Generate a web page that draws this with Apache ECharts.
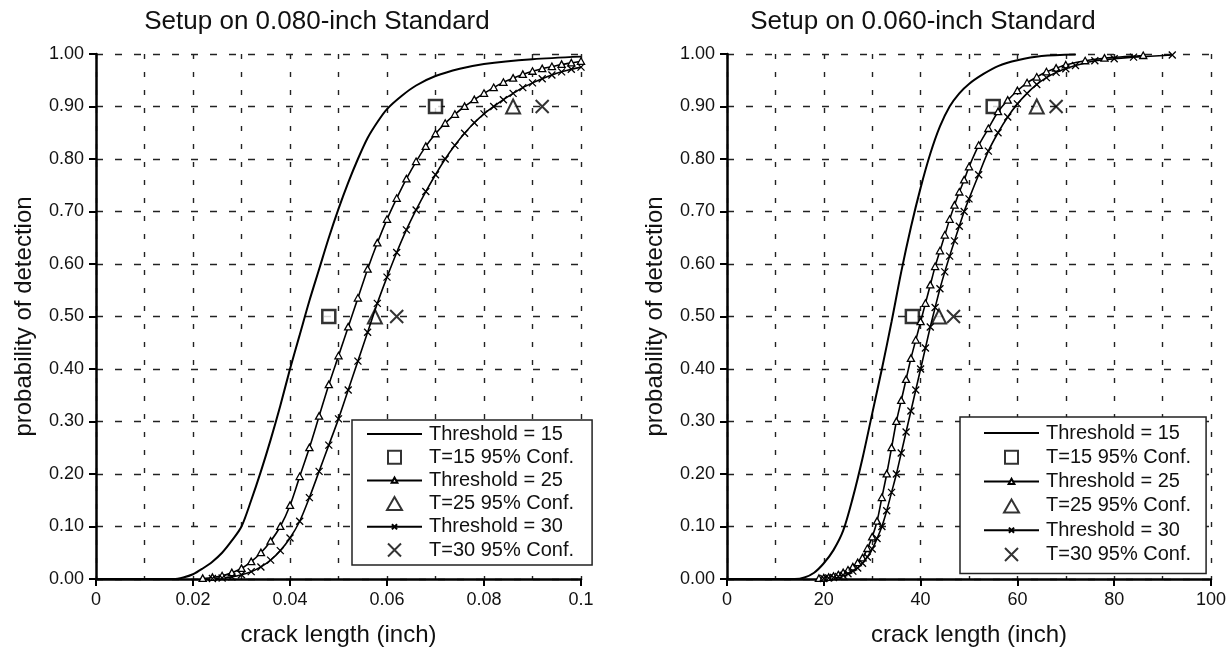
<!DOCTYPE html>
<html><head><meta charset="utf-8">
<script src="https://cdn.jsdelivr.net/npm/echarts@6/dist/echarts.min.js"></script>
<style>html,body{margin:0;padding:0;background:#fff}#c{width:1229px;height:653px}</style>
</head><body><div id="c"></div>
<script>
// ---------- data ----------
const titles = ['Setup on 0.080-inch Standard', 'Setup on 0.060-inch Standard'];
const yName = 'probability of detection';
const xName = 'crack length (inch)';
const legendNames = ['Threshold = 15', 'T=15 95% Conf.', 'Threshold = 25', 'T=25 95% Conf.', 'Threshold = 30', 'T=30 95% Conf.'];

// Left chart (0.080-inch)
const L_t15_x = [0, 0.016, 0.018, 0.020, 0.022, 0.024, 0.026, 0.028, 0.030, 0.032, 0.034, 0.036, 0.038, 0.040, 0.042, 0.044, 0.046, 0.048, 0.050, 0.052, 0.054, 0.056, 0.058, 0.060, 0.063, 0.066, 0.070, 0.075, 0.080, 0.090, 0.100];
const L_t15_y = [0, 0, 0.003, 0.009, 0.02, 0.033, 0.05, 0.073, 0.10, 0.15, 0.205, 0.265, 0.33, 0.40, 0.465, 0.53, 0.59, 0.65, 0.705, 0.755, 0.80, 0.84, 0.87, 0.895, 0.92, 0.94, 0.958, 0.972, 0.981, 0.99, 0.995];
const L_t25_x = [0.022, 0.024, 0.026, 0.028, 0.030, 0.032, 0.034, 0.036, 0.038, 0.040, 0.042, 0.044, 0.046, 0.048, 0.050, 0.052, 0.054, 0.056, 0.058, 0.060, 0.062, 0.064, 0.066, 0.068, 0.070, 0.072, 0.074, 0.076, 0.078, 0.080, 0.082, 0.084, 0.086, 0.088, 0.090, 0.092, 0.094, 0.096, 0.098, 0.100];
const L_t25_y = [0.001, 0.003, 0.006, 0.012, 0.02, 0.033, 0.05, 0.072, 0.10, 0.14, 0.195, 0.25, 0.31, 0.37, 0.425, 0.48, 0.535, 0.59, 0.64, 0.685, 0.725, 0.762, 0.795, 0.824, 0.848, 0.868, 0.885, 0.90, 0.913, 0.925, 0.936, 0.946, 0.954, 0.961, 0.967, 0.972, 0.976, 0.980, 0.983, 0.986];
const L_t30_x = [0.024, 0.026, 0.028, 0.030, 0.032, 0.034, 0.036, 0.038, 0.040, 0.042, 0.044, 0.046, 0.048, 0.050, 0.052, 0.054, 0.056, 0.058, 0.060, 0.062, 0.064, 0.066, 0.068, 0.070, 0.072, 0.074, 0.076, 0.078, 0.080, 0.082, 0.084, 0.086, 0.088, 0.090, 0.092, 0.094, 0.096, 0.098, 0.100];
const L_t30_y = [0.001, 0.002, 0.004, 0.008, 0.014, 0.023, 0.036, 0.054, 0.078, 0.11, 0.155, 0.205, 0.255, 0.305, 0.36, 0.415, 0.47, 0.525, 0.575, 0.622, 0.665, 0.703, 0.738, 0.77, 0.80, 0.826, 0.849, 0.869, 0.886, 0.90, 0.913, 0.925, 0.936, 0.945, 0.953, 0.96, 0.966, 0.971, 0.975];
const L_c15 = [[0.048, 0.5], [0.070, 0.9]];
const L_c25 = [[0.0575, 0.5], [0.086, 0.9]];
const L_c30 = [[0.062, 0.5], [0.092, 0.9]];

// Right chart (0.060-inch)
const R_t15_x = [0, 14, 16, 18, 20, 22, 24, 26, 28, 30, 32, 34, 36, 38, 40, 42, 44, 46, 48, 50, 53, 56, 60, 65, 72];
const R_t15_y = [0, 0, 0.003, 0.012, 0.03, 0.055, 0.092, 0.155, 0.23, 0.315, 0.40, 0.49, 0.585, 0.67, 0.745, 0.81, 0.862, 0.90, 0.925, 0.943, 0.962, 0.977, 0.988, 0.996, 0.999];
const R_t25_x = [19, 20, 21, 22, 23, 24, 25, 26, 27, 28, 29, 30, 31, 32, 33, 34, 35, 36, 37, 38, 39, 40, 41, 42, 43, 44, 45, 46, 47, 48, 49, 50, 52, 54, 56, 58, 60, 62, 64, 66, 68, 70, 74, 78, 86];
const R_t25_y = [0.001, 0.002, 0.003, 0.005, 0.008, 0.012, 0.017, 0.023, 0.031, 0.04, 0.058, 0.08, 0.11, 0.155, 0.20, 0.25, 0.30, 0.34, 0.38, 0.42, 0.455, 0.49, 0.525, 0.56, 0.595, 0.625, 0.655, 0.685, 0.712, 0.737, 0.76, 0.785, 0.826, 0.858, 0.89, 0.912, 0.93, 0.945, 0.956, 0.966, 0.973, 0.979, 0.987, 0.992, 0.997];
const R_t30_x = [20, 21, 22, 23, 24, 25, 26, 27, 28, 29, 30, 31, 32, 33, 34, 35, 36, 37, 38, 39, 40, 41, 42, 43, 44, 45, 46, 47, 48, 49, 50, 52, 54, 56, 58, 60, 62, 64, 66, 68, 70, 72, 76, 80, 84, 92];
const R_t30_y = [0.001, 0.002, 0.003, 0.005, 0.007, 0.01, 0.015, 0.021, 0.03, 0.042, 0.057, 0.077, 0.10, 0.13, 0.165, 0.20, 0.24, 0.28, 0.32, 0.36, 0.40, 0.44, 0.48, 0.517, 0.553, 0.585, 0.615, 0.644, 0.672, 0.70, 0.724, 0.77, 0.815, 0.85, 0.88, 0.905, 0.925, 0.942, 0.955, 0.965, 0.972, 0.978, 0.987, 0.991, 0.994, 0.998];
const R_c15 = [[38.3, 0.5], [55, 0.9]];
const R_c25 = [[43.8, 0.5], [64, 0.9]];
const R_c30 = [[46.8, 0.5], [68, 0.9]];

// ---------- styling ----------
const SANS = "'Liberation Sans', Arial, sans-serif";
const NARROW = "'Liberation Sans Narrow', 'Liberation Sans', Arial, sans-serif";
const SYM_SQUARE = 'path://M0,0L10,0L10,10L0,10Z';
const SYM_TRI = 'path://M6,0L12,10.4L0,10.4Z';
const SYM_X = 'path://M0,0L10,10M10,0L0,10';
const SYM_TRI_SMALL = 'path://M0,0M20,20M10,4.5L15.5,14.5L4.5,14.5Z';
const SYM_X_SMALL = 'path://M0,0M20,20M5,5L15,15M15,5L5,15';
const SYM_NONE = 'path://M0,0M10,10';

const zip = (xs, ys) => xs.map((x, i) => [x, ys[i]]);

const grids = [
  {left: 96, top: 54, width: 485, height: 525},
  {left: 727, top: 54, width: 485, height: 525}
];
const gridDashH = {show: true, lineStyle: {color: '#222', width: 1.4, type: [7, 12]}};
const gridDashV = {show: true, lineStyle: {color: '#222', width: 1.4, type: [5, 13]}};

function xAxis(gi, max, interval) {
  return {
    type: 'value', gridIndex: gi, min: 0, max: max, interval: interval,
    name: xName, nameLocation: 'middle', nameGap: 44,
    nameTextStyle: {fontFamily: SANS, fontSize: 24, color: '#111'},
    axisLine: {show: true, onZero: false, lineStyle: {color: '#000', width: 2.5}},
    axisTick: {show: true, length: 7, lineStyle: {color: '#000', width: 2}},
    minorTick: {show: false, splitNumber: 2},
    axisLabel: {fontFamily: NARROW, fontSize: 18, color: '#111', margin: 12},
    splitLine: gridDashV,
    minorSplitLine: gridDashV
  };
}
function yAxis(gi) {
  return {
    type: 'value', gridIndex: gi, min: 0, max: 1, interval: 0.1,
    name: yName, nameLocation: 'middle', nameGap: 60,
    nameTextStyle: {fontFamily: SANS, fontSize: 24, color: '#111'},
    axisLine: {show: true, onZero: false, lineStyle: {color: '#000', width: 2.5}},
    axisTick: {show: true, length: 7, lineStyle: {color: '#000', width: 2}},
    axisLabel: {fontFamily: NARROW, fontSize: 18, color: '#111', margin: 12, formatter: v => v.toFixed(2)},
    splitLine: gridDashH
  };
}

function seriesFor(idx, t15, t25, t30, c15, c25, c30) {
  const base = {xAxisIndex: idx, yAxisIndex: idx, animation: false, silent: true};
  return [
    Object.assign({}, base, {type: 'line', name: legendNames[0], data: t15, symbol: SYM_NONE, showSymbol: false,
      lineStyle: {color: '#000', width: 2}, itemStyle: {color: '#000'}, smooth: 0.3}),
    Object.assign({}, base, {type: 'scatter', name: legendNames[1], data: c15, symbol: SYM_SQUARE, symbolSize: 13,
      itemStyle: {color: '#fff', borderColor: '#000', borderWidth: 2.5}}),
    Object.assign({}, base, {type: 'line', name: legendNames[2], data: t25, symbol: SYM_TRI_SMALL, symbolSize: 13,
      lineStyle: {color: '#000', width: 1.6}, itemStyle: {color: '#fff', borderColor: '#000', borderWidth: 1.3}, smooth: 0.3}),
    Object.assign({}, base, {type: 'scatter', name: legendNames[3], data: c25, symbol: SYM_TRI, symbolSize: 14,
      itemStyle: {color: '#fff', borderColor: '#000', borderWidth: 2}}),
    Object.assign({}, base, {type: 'line', name: legendNames[4], data: t30, symbol: SYM_X_SMALL, symbolSize: 14,
      lineStyle: {color: '#000', width: 1.6}, itemStyle: {color: '#000', borderColor: '#000', borderWidth: 1.3}, smooth: 0.3}),
    Object.assign({}, base, {type: 'scatter', name: legendNames[5], data: c30, symbol: SYM_X, symbolSize: 13,
      itemStyle: {color: '#000', borderColor: '#000', borderWidth: 2}})
  ];
}

function legendFor(left, top, padding, gap) {
  return {
    orient: 'vertical', left: left, top: top, padding: padding,
    itemWidth: 55, itemHeight: 13, itemGap: gap, selectedMode: false,
    symbolKeepAspect: true,
    backgroundColor: '#fff', borderColor: '#222', borderWidth: 1.5,
    textStyle: {fontFamily: SANS, fontSize: 20, color: '#111', lineHeight: 20, padding: [0, 0, 0, 2]},
    data: legendNames
  };
}

const chart = echarts.init(document.getElementById('c'), null, {renderer: 'canvas'});
chart.setOption({
  animation: false,
  backgroundColor: '#fff',
  title: [
    {text: titles[0], left: 317, top: 9, textAlign: 'center', padding: 0,
      textStyle: {fontFamily: SANS, fontSize: 26, fontWeight: 'normal', color: '#111'}},
    {text: titles[1], left: 923, top: 9, textAlign: 'center', padding: 0,
      textStyle: {fontFamily: SANS, fontSize: 26, fontWeight: 'normal', color: '#111'}}
  ],
  grid: grids,
  xAxis: [xAxis(0, 0.1, 0.02), xAxis(1, 100, 20)],
  yAxis: [yAxis(0), yAxis(1)],
  legend: [
    legendFor(352, 420, [4, 18, 5, 14], 3.2),
    legendFor(960, 417, [6, 15, 9, 23], 4.3)
  ],
  series: [].concat(
    seriesFor(0, zip(L_t15_x, L_t15_y), zip(L_t25_x, L_t25_y), zip(L_t30_x, L_t30_y), L_c15, L_c25, L_c30),
    seriesFor(1, zip(R_t15_x, R_t15_y), zip(R_t25_x, R_t25_y), zip(R_t30_x, R_t30_y), R_c15, R_c25, R_c30)
  )
});
</script>
</body></html>
